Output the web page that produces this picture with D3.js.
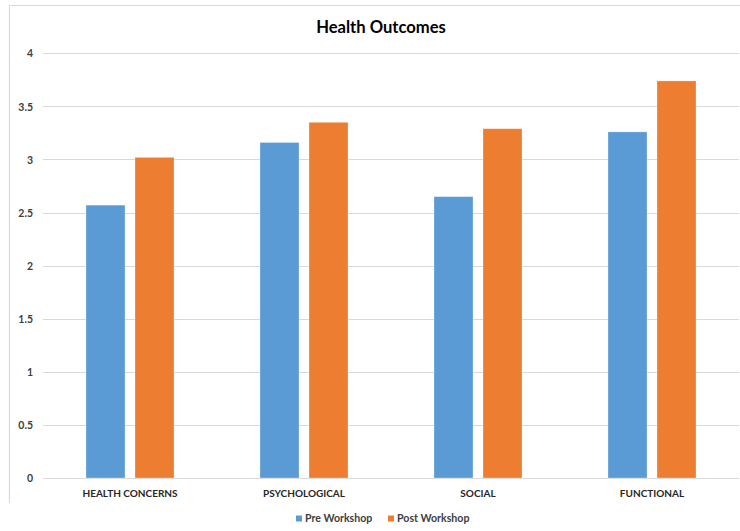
<!DOCTYPE html>
<html><head><meta charset="utf-8">
<script src="https://cdn.jsdelivr.net/npm/d3@7"></script>
<style>
html,body{margin:0;padding:0;background:#fff;}
svg{display:block;}
text{font-family:Lato,"Open Sans",sans-serif;}
</style></head>
<body>
<svg id="chart" width="740" height="531"></svg>
<script>
const title = "Health Outcomes";
const categories = ["HEALTH CONCERNS", "PSYCHOLOGICAL", "SOCIAL", "FUNCTIONAL"];
const seriesNames = ["Pre Workshop", "Post Workshop"];
const preWorkshop = [2.57, 3.16, 2.65, 3.26];
const postWorkshop = [3.02, 3.35, 3.29, 3.74];
const yTicks = [0, 0.5, 1, 1.5, 2, 2.5, 3, 3.5, 4];
const colors = ["#5B9BD5", "#ED7D31"];

const svg = d3.select("#chart");
const plot = {left: 43, right: 739, top: 53.3, bottom: 478};

// chart frame (top and left edges visible)
svg.append("line").attr("x1", 9.5).attr("x2", 740).attr("y1", 5.5).attr("y2", 5.5)
  .attr("stroke", "#d9d9d9").attr("stroke-width", 1.2);
svg.append("line").attr("x1", 9.5).attr("x2", 9.5).attr("y1", 5.5).attr("y2", 503)
  .attr("stroke", "#d9d9d9").attr("stroke-width", 1.2);

const y = d3.scaleLinear().domain([0, 4]).range([plot.bottom, plot.top]);
const x0 = d3.scaleBand().domain(categories).range([plot.left, plot.right]).padding(0);
const groupW = 88;
const x1 = d3.scaleBand().domain(seriesNames).range([0, groupW]).paddingInner(10 / 49);

// grid lines
svg.append("g").selectAll("line").data(yTicks).join("line")
  .attr("x1", plot.left).attr("x2", plot.right)
  .attr("y1", d => Math.round(y(d)) + 0.5).attr("y2", d => Math.round(y(d)) + 0.5)
  .attr("stroke", "#d9d9d9").attr("stroke-width", 1);

// y axis labels
const yAxis = d3.axisLeft(y).tickValues(yTicks).tickSize(0).tickPadding(0).tickFormat(d3.format("~g"));
const gy = svg.append("g").attr("transform", "translate(33,0)").call(yAxis);
gy.select(".domain").remove();
gy.selectAll("text").attr("font-family", "Lato, sans-serif").attr("font-size", 10.5)
  .attr("font-weight", "bold").attr("fill", "#404040").attr("dy", "0.35em");

// bars
const data = categories.map((c, i) => ({cat: c, vals: [preWorkshop[i], postWorkshop[i]]}));
const groups = svg.append("g").selectAll("g").data(data).join("g")
  .attr("transform", d => `translate(${x0(d.cat) + (x0.bandwidth() - groupW) / 2},0)`);
groups.selectAll("rect").data(d => d.vals.map((v, j) => ({s: seriesNames[j], v, j})))
  .join("rect")
  .attr("x", d => x1(d.s))
  .attr("width", x1.bandwidth())
  .attr("y", d => y(d.v))
  .attr("height", d => y(0) - y(d.v))
  .attr("fill", d => colors[d.j])
  .attr("stroke", "#ffffff").attr("stroke-opacity", 0.35).attr("stroke-width", 0.8);

// x axis labels
const xAxis = d3.axisBottom(x0).tickSize(0).tickPadding(0);
const gx = svg.append("g").attr("transform", "translate(0,493.5)").call(xAxis);
gx.select(".domain").remove();
gx.selectAll("text").attr("font-family", "Lato, sans-serif").attr("font-size", 10)
  .attr("font-weight", "bold").attr("fill", "#262626").attr("dy", "0.35em");

// title
svg.append("text").attr("x", 381).attr("y", 32.5).attr("text-anchor", "middle")
  .attr("font-size", 16.6).attr("font-weight", "bold").attr("fill", "#000")
  .text(title);

// legend
const legendItems = [{name: seriesNames[0], x: 296}, {name: seriesNames[1], x: 388}];
const lg = svg.append("g").selectAll("g").data(legendItems).join("g")
  .attr("transform", d => `translate(${d.x},518.5)`);
lg.append("rect").attr("x", 0).attr("y", -3).attr("width", 6).attr("height", 6)
  .attr("fill", (d, i) => colors[i]);
lg.append("text").attr("x", 9).attr("dy", "0.35em").attr("font-size", 10.6)
  .attr("font-weight", "bold").attr("fill", "#404040").text(d => d.name);
</script>
</body></html>
